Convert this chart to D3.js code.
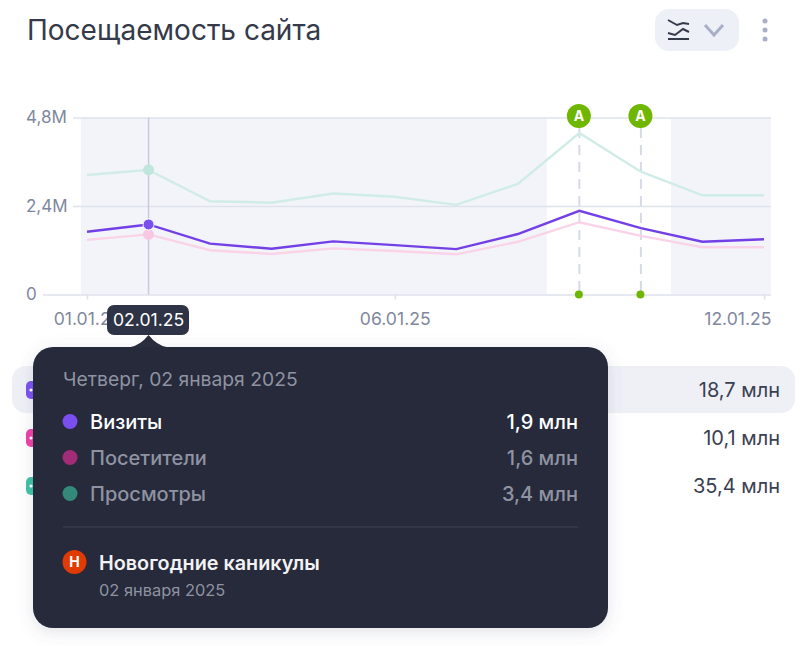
<!DOCTYPE html>
<html lang="ru">
<head>
<meta charset="UTF-8">
<title>Посещаемость сайта</title>
<script src="https://d3js.org/d3.v7.min.js"></script>
<style>
    body { margin: 0; background: #fff; font-family: Inter, "Noto Sans", sans-serif; }
    svg { display: block; }
    .axis text { font-size: 17px; fill: #7f879e; font-family: Inter, sans-serif; }
    .axis path { display: none; }
    .axis line { stroke: #dfe2ec; stroke-width: 1.5; }
    .x-axis text { font-size: 17.6px; }
</style>
</head>
<body>
<svg id="chart" width="806" height="646"></svg>
<script>
const days = [1, 2, 3, 4, 5, 6, 7, 8, 9, 10, 11, 12];
const visits = [1.70, 1.90, 1.38, 1.24, 1.44, 1.34, 1.23, 1.64, 2.27, 1.80, 1.43, 1.50];
const visitors = [1.48, 1.63, 1.20, 1.10, 1.25, 1.18, 1.09, 1.43, 1.96, 1.59, 1.28, 1.28];
const views = [3.24, 3.38, 2.53, 2.49, 2.74, 2.65, 2.43, 3.00, 4.38, 3.33, 2.69, 2.69];

const yTicks = [0, 2.4, 4.8];
const yTickLabels = ["0", "2,4M", "4,8M"];
const xTicks = [1, 6, 12];
const xTickLabels = ["01.01.25", "06.01.25", "12.01.25"];
const holidayBands = [[0.9, 8.47], [10.49, 12.11]];
const annotationDays = [9, 10];
const activeDay = 2;

const legendNames = ["Визиты", "Посетители", "Просмотры"];
const legendTotals = ["18,7 млн", "10,1 млн", "35,4 млн"];
const tooltipValues = ["1,9 млн", "1,6 млн", "3,4 млн"];
const legendColors = ["#7a4ff0", "#f03ea8", "#3fc2a4"];
const tooltipColors = ["#7a4ff0", "#a32c78", "#35897a"];

const svg = d3.select("#chart");
const x = d3.scaleLinear().domain([1, 12]).range([87, 764]);
const y = d3.scaleLinear().domain([0, 4.8]).range([294.5, 117.5]);

// title + controls
svg.append("text").attr("x", 27).attr("y", 40).attr("fill", "#343a4a")
    .attr("font-size", 28).text("Посещаемость сайта");
svg.append("rect").attr("x", 655).attr("y", 9).attr("width", 84).attr("height", 42)
    .attr("rx", 14).attr("fill", "#eef0f7");
const icon = svg.append("g").attr("fill", "none").attr("stroke", "#343a4a").attr("stroke-width", 2);
icon.append("path").attr("d", "M668,20 L677,25 L683,23 L689,24");
icon.append("path").attr("d", "M668,33 L675,35 L683,29 L689,32");
icon.append("path").attr("d", "M668,39 L689,39");
svg.append("path").attr("d", "M705,25 L714,35 L723,25").attr("fill", "none")
    .attr("stroke", "#a8afc6").attr("stroke-width", 3);
svg.selectAll(".dot3").data([21, 30, 39]).enter().append("circle")
    .attr("cx", 765).attr("cy", d => d).attr("r", 2.5).attr("fill", "#a8afc6");

// grey day-off bands
svg.selectAll(".band").data(holidayBands).enter().append("rect")
    .attr("x", d => x(d[0])).attr("width", d => x(d[1]) - x(d[0]))
    .attr("y", y(4.8)).attr("height", y(0) - y(4.8)).attr("fill", "#f2f4f9");

// axes
const yAxis = svg.append("g").attr("class", "axis").attr("transform", "translate(771,0)")
    .call(d3.axisLeft(y).tickValues(yTicks).tickFormat((d, i) => yTickLabels[i]).tickSize(698).tickPadding(0));
yAxis.selectAll("text").attr("text-anchor", "start").attr("x", -745).attr("dy", "0.3em");
yAxis.selectAll("line").filter(d => d === 0).attr("x2", -728);

const xAxis = svg.append("g").attr("class", "axis x-axis").attr("transform", "translate(0,294.5)")
    .call(d3.axisBottom(x).tickValues(xTicks).tickFormat((d, i) => xTickLabels[i]).tickSize(5).tickPadding(13));
xAxis.selectAll("text").filter(d => d === 12).attr("text-anchor", "end").attr("x", 7);

// annotation stems
const stems = svg.append("g");
stems.selectAll("line").data(annotationDays).enter().append("line")
    .attr("x1", d => x(d)).attr("x2", d => x(d)).attr("y1", 128).attr("y2", y(0))
    .attr("stroke", "#d6dae7").attr("stroke-width", 2).attr("stroke-dasharray", "10,7");

// hover line
svg.append("line").attr("x1", x(activeDay)).attr("x2", x(activeDay)).attr("y1", y(4.8)).attr("y2", y(0))
    .attr("stroke", "#c9cddb").attr("stroke-width", 1.6);

// lines
const line = d3.line().x((d, i) => x(days[i])).y(d => y(d));
[[views, "#d0ece6", 2.4], [visitors, "#fad3e9", 2.4], [visits, "#7240e6", 2.4]].forEach(s => {
    svg.append("path").datum(s[0]).attr("d", line).attr("fill", "none")
        .attr("stroke", s[1]).attr("stroke-width", s[2]);
});

// points on the active day
svg.append("circle").attr("cx", x(activeDay)).attr("cy", y(views[activeDay - 1])).attr("r", 5.5).attr("fill", "#bfe6dc");
svg.append("circle").attr("cx", x(activeDay)).attr("cy", y(visitors[activeDay - 1])).attr("r", 5.5).attr("fill", "#f8c8e2");
svg.append("circle").attr("cx", x(activeDay)).attr("cy", y(visits[activeDay - 1])).attr("r", 5.5)
    .attr("fill", "#7a4ff0").attr("stroke", "#fff").attr("stroke-width", 1);

// annotation badges
const badges = svg.append("g").selectAll("g").data(annotationDays).enter().append("g");
badges.append("circle").attr("cx", d => x(d) - 0.5).attr("cy", 116).attr("r", 12).attr("fill", "#6fb600");
badges.append("text").attr("x", d => x(d) - 0.5).attr("y", 121).attr("text-anchor", "middle")
    .attr("fill", "#fff").attr("font-size", 14).attr("font-weight", 700).text("A");
badges.append("circle").attr("cx", d => x(d) - 0.5).attr("cy", y(0)).attr("r", 4).attr("fill", "#6fb600");

// legend rows (mostly under the tooltip)
svg.append("rect").attr("x", 12).attr("y", 366).attr("width", 783).attr("height", 47).attr("rx", 14).attr("fill", "#eef0f6");
const rows = svg.append("g").selectAll("g").data(legendNames).enter().append("g")
    .attr("transform", (d, i) => `translate(0,${390 + i * 48})`);
rows.append("rect").attr("x", 26).attr("y", -9).attr("width", 18).attr("height", 18).attr("rx", 5)
    .attr("fill", (d, i) => legendColors[i]);
rows.append("circle").attr("cx", 31).attr("cy", 0).attr("r", 1.6).attr("fill", "#fff");
rows.append("text").attr("x", 780).attr("y", 7).attr("text-anchor", "end").attr("fill", "#3a4052")
    .attr("font-size", 20).text((d, i) => legendTotals[i]);

// tooltip
const defs = svg.append("defs");
const shadow = defs.append("filter").attr("id", "shadow").attr("x", "-10%").attr("y", "-10%").attr("width", "120%").attr("height", "120%");
shadow.append("feDropShadow").attr("dx", 0).attr("dy", 4).attr("stdDeviation", 8)
    .attr("flood-color", "#5a6480").attr("flood-opacity", 0.18);

svg.append("path").attr("d", `M${x(activeDay) - 18},347 Q${x(activeDay) - 8},345 ${x(activeDay)},335 Q${x(activeDay) + 8},345 ${x(activeDay) + 18},347 Z`)
    .attr("fill", "#272b3a");
svg.append("rect").attr("x", 33).attr("y", 347).attr("width", 575).attr("height", 281).attr("rx", 20)
    .attr("fill", "#272b3a").attr("filter", "url(#shadow)");
svg.append("rect").attr("x", 107).attr("y", 305).attr("width", 82).attr("height", 30).attr("rx", 7).attr("fill", "#2e3345");
svg.append("text").attr("x", x(activeDay)).attr("y", 326).attr("text-anchor", "middle")
    .attr("fill", "#fff").attr("font-size", 17.6).text("02.01.25");

svg.append("text").attr("x", 63).attr("y", 386).attr("fill", "#8f93a1").attr("font-size", 19.3).text("Четверг, 02 января 2025");

const tipRows = svg.append("g").selectAll("g").data(legendNames).enter().append("g")
    .attr("transform", (d, i) => `translate(0,${421.5 + i * 36})`);
tipRows.append("circle").attr("cx", 70).attr("cy", 0).attr("r", 7.5).attr("fill", (d, i) => tooltipColors[i]);
tipRows.append("text").attr("x", 90).attr("y", 7).attr("font-size", 20).attr("font-weight", 500)
    .attr("fill", (d, i) => i === 0 ? "#fff" : "#8f93a1").text(d => d);
tipRows.append("text").attr("x", 578).attr("y", 7).attr("text-anchor", "end").attr("font-size", 20).attr("font-weight", 500)
    .attr("fill", (d, i) => i === 0 ? "#fff" : "#8f93a1").text((d, i) => tooltipValues[i]);

svg.append("line").attr("x1", 63).attr("x2", 578).attr("y1", 527).attr("y2", 527).attr("stroke", "#3e4252").attr("stroke-width", 1.2);
svg.append("circle").attr("cx", 74.5).attr("cy", 562).attr("r", 12).attr("fill", "#e03a05");
svg.append("text").attr("x", 74.5).attr("y", 567).attr("text-anchor", "middle").attr("fill", "#fff")
    .attr("font-size", 14).attr("font-weight", 700).text("Н");
svg.append("text").attr("x", 99).attr("y", 569.5).attr("fill", "#f2f2f4").attr("font-size", 19.8).attr("font-weight", 600).text("Новогодние каникулы");
svg.append("text").attr("x", 99).attr("y", 596).attr("fill", "#8f93a1").attr("font-size", 16.4).text("02 января 2025");
</script>
</body>
</html>
